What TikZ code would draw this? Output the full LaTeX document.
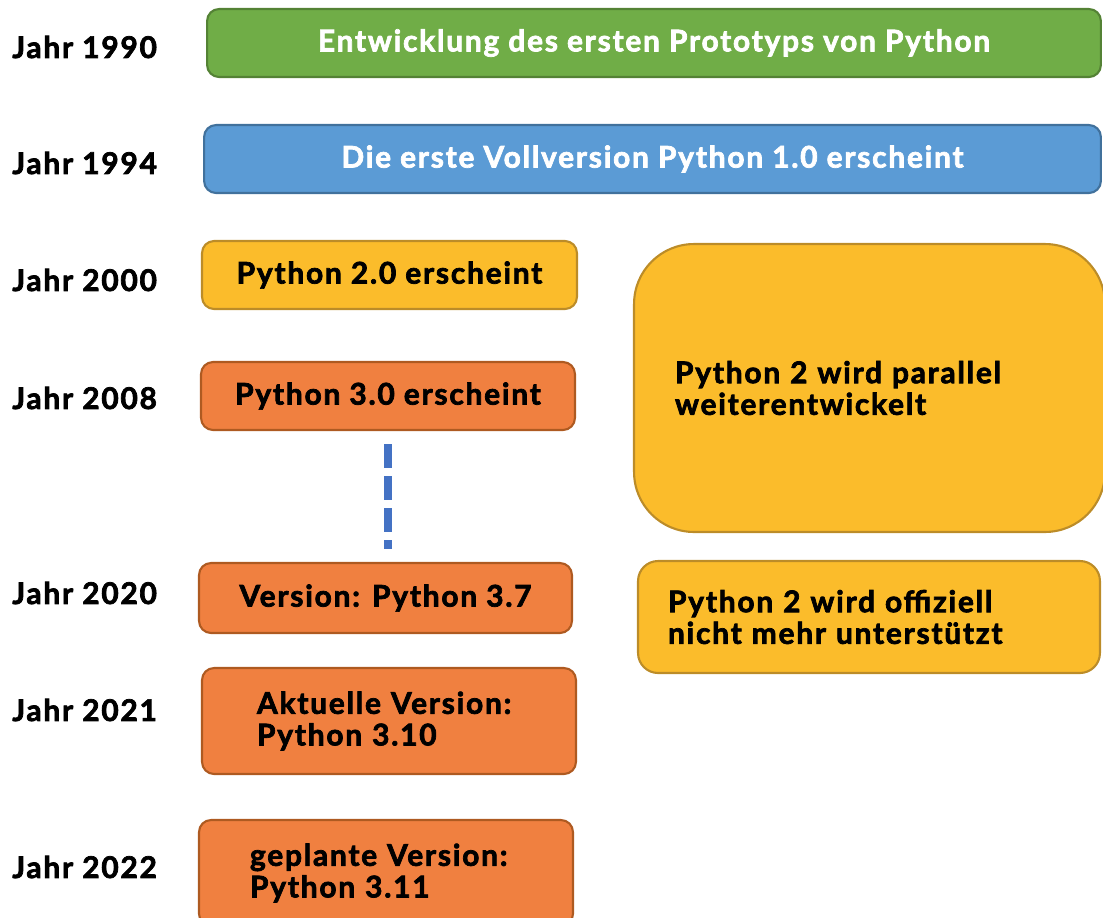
\documentclass[tikz,border=0pt]{standalone}
\usepackage{fontspec}
\setmainfont{Lato}[BoldFeatures={FakeBold=2.4, LetterSpace=6}]
\usepackage{xcolor}
\usepackage{tikz}
\usetikzlibrary{
    positioning,
    calc
}

\definecolor{gruen}{HTML}{70AD47}
\definecolor{gruenrand}{HTML}{548235}
\definecolor{blau}{HTML}{5B9BD5}
\definecolor{blaurand}{HTML}{41719C}
\definecolor{gelb}{HTML}{FBBC2B}
\definecolor{gelbrand}{HTML}{BC8C28}
\definecolor{orange}{HTML}{F08040}
\definecolor{orangerand}{HTML}{AE5A21}
\definecolor{strich}{HTML}{4472C4}

\tikzstyle{box} = [rounded corners=0.24cm, line width=1.2pt, inner sep=0pt,
    font=\bfseries\fontsize{17}{18}\selectfont]
\tikzstyle{jahr} = [anchor=west, inner sep=0pt, font=\bfseries\fontsize{17}{18}\selectfont]
\tikzstyle{luecke} = [draw=strich, line width=0.16cm, dash pattern=on 0.48cm off 0.16cm]

\begin{document}
\begin{tikzpicture}[x=0.02cm, y=-0.02cm]

\path[use as bounding box] (0,0) rectangle (1103,917);

% Jahre
\node[jahr] (j1990) at (12,47) {Jahr 1990};
\node[jahr] (j1994) at (12,163) {Jahr 1994};
\node[jahr] (j2000) at (12,280) {Jahr 2000};
\node[jahr] (j2008) at (12,398) {Jahr 2008};
\node[jahr] (j2020) at (12,593) {Jahr 2020};
\node[jahr] (j2021) at (12,710) {Jahr 2021};
\node[jahr] (j2022) at (12,867) {Jahr 2022};

% Ereignisse
\node[box, fill=gruen, draw=gruenrand, text=white, minimum width=17.88cm, minimum height=1.36cm]
    (proto) at (654,43) {Entwicklung des ersten Prototyps von Python};
\node[box, fill=blau, draw=blaurand, text=white, minimum width=17.94cm, minimum height=1.36cm]
    (v10) at (652.5,159) {Die erste Vollversion Python 1.0 erscheint};
\node[box, fill=gelb, draw=gelbrand, minimum width=7.5cm, minimum height=1.36cm]
    (v20) at (389.5,275) {Python 2.0 erscheint};
\node[box, fill=orange, draw=orangerand, minimum width=7.48cm, minimum height=1.36cm]
    (v30) at (388,396) {Python 3.0 erscheint};
\node[box, fill=orange, draw=orangerand, minimum width=7.46cm, minimum height=1.4cm]
    (v37) at (385.5,598) {Version: Python 3.7};
\node[box, fill=orange, draw=orangerand, text width=5.28cm, inner xsep=1.1cm, align=left,
    minimum height=2.12cm] (v310) at (389,721) {Aktuelle Version:\\Python 3.10};
\node[box, fill=orange, draw=orangerand, text width=5.44cm, inner xsep=1.02cm, align=left,
    minimum height=2.12cm] (v311) at (386,873) {geplante Version:\\Python 3.11};

% Python 2
\node[box, rounded corners=1.2cm, fill=gelb, draw=gelbrand, text width=7.78cm, inner xsep=0.82cm,
    align=left, minimum height=5.76cm] (py2) at (869.5,388)
    {Python 2 wird parallel\\weiterentwickelt};
\node[box, rounded corners=0.4cm, fill=gelb, draw=gelbrand, text width=8.04cm, inner xsep=0.6cm,
    align=left, minimum height=2.24cm] (py2ende) at (869,617)
    {Python 2 wird offiziell\\nicht mehr unterstützt};

% Zeitsprung
\draw[luecke, shorten <=0.26cm, shorten >=0.26cm] (v30.south) -- (v30.south |- v37.north);

\end{tikzpicture}
\end{document}
